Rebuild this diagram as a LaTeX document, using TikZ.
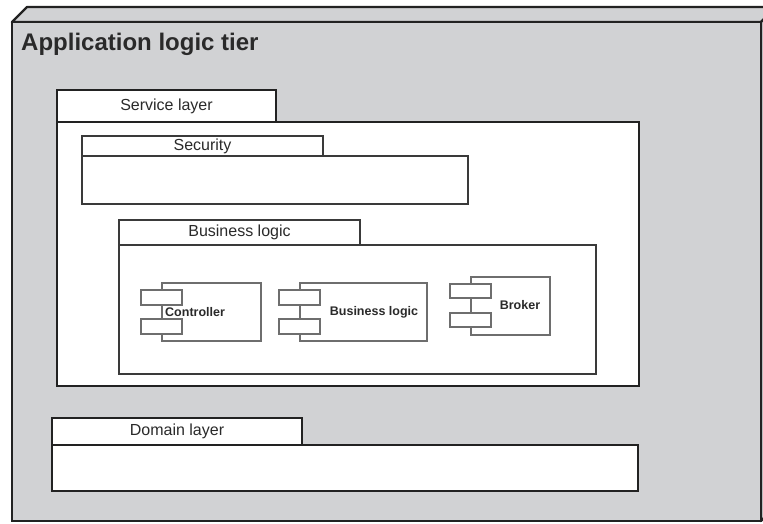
\documentclass[tikz,border=0pt]{standalone}
\usepackage{fontspec}
\setmainfont{Liberation Sans}
\definecolor{tierfill}{HTML}{D1D2D4}
\definecolor{edge}{HTML}{222222}
\definecolor{pkgedge}{HTML}{3A3A3A}
\definecolor{compedge}{HTML}{6E6E6E}
\definecolor{ink}{HTML}{2A2A2A}
\begin{document}
\begin{tikzpicture}[x=1pt,y=-1pt,
  box/.style={rectangle, anchor=north west, inner sep=0pt, outer sep=0pt, fill=white},
  heavybox/.style={box, draw=edge, line width=2.6pt},
  lightbox/.style={box, draw=pkgedge, line width=1.4pt},
  compbox/.style={box, draw=compedge, line width=1.2pt},
  tablabel/.style={text=ink, font=\fontsize{16}{18}\selectfont},
  complabel/.style={text=ink, font=\bfseries\fontsize{12.5}{14}\selectfont, inner sep=0pt}]
\useasboundingbox (0,0) rectangle (763,523);

% ---- node (3D box) for the tier ----
\begin{scope}
  \clip (0,0) rectangle (763,523);
  \filldraw[fill=tierfill, draw=edge, line width=2.4pt, line join=round]
    (12,22) -- (27,7) -- (776,7) -- (761,22) -- cycle;
  \filldraw[fill=tierfill, draw=edge, line width=2.4pt, line join=round]
    (761,22) -- (776,7) -- (776,506) -- (761,521) -- cycle;
\end{scope}
\node[box, fill=tierfill, draw=edge, line width=2.4pt,
      minimum width=749pt, minimum height=499pt] (tier) at (12,22) {};
\node[anchor=base west, text=ink, font=\bfseries\fontsize{24}{28}\selectfont, inner sep=0pt]
  (title) at (21,50) {Application logic tier};

% ---- Service layer package ----
\node[heavybox, minimum width=582pt, minimum height=264pt] (svcBody) at (57,122) {};
\node[heavybox, minimum width=219pt, minimum height=32pt] (svcTab) at (57,90) {};
\node[tablabel] at (svcTab.center) {Service layer};

% ---- Security package ----
\node[lightbox, minimum width=386pt, minimum height=48pt] (secBody) at (82,156) {};
\node[lightbox, minimum width=241pt, minimum height=20pt] (secTab) at (82,136) {};
\node[tablabel] at (secTab.center) {Security};

% ---- Business logic package ----
\node[lightbox, minimum width=477pt, minimum height=129pt] (blBody) at (119,245) {};
\node[lightbox, minimum width=241pt, minimum height=25pt] (blTab) at (119,220) {};
\node[tablabel] at (blTab.center) {Business logic};

% ---- Components ----
\node[compbox, minimum width=99pt, minimum height=58pt] (ctrl) at (162,283) {};
\node[compbox, minimum width=41pt, minimum height=15pt] (ctrlPortA) at (141,290) {};
\node[compbox, minimum width=41pt, minimum height=15pt] (ctrlPortB) at (141,319) {};
\node[complabel, anchor=west] (ctrlLabel) at (165,312) {Controller};

\node[compbox, minimum width=127pt, minimum height=58pt] (blc) at (300,283) {};
\node[compbox, minimum width=41pt, minimum height=15pt] (blcPortA) at (279,290) {};
\node[compbox, minimum width=41pt, minimum height=15pt] (blcPortB) at (279,319) {};
\node[complabel] (blcLabel) at (374,312) {Business logic};

\node[compbox, minimum width=79pt, minimum height=58pt] (brk) at (471,277) {};
\node[compbox, minimum width=41pt, minimum height=14pt] (brkPortA) at (450,284) {};
\node[compbox, minimum width=41pt, minimum height=14pt] (brkPortB) at (450,313) {};
\node[complabel] (brkLabel) at (520,305) {Broker};

% ---- Domain layer package ----
\node[heavybox, minimum width=586pt, minimum height=46pt] (domBody) at (52,445) {};
\node[heavybox, minimum width=250pt, minimum height=27pt] (domTab) at (52,418) {};
\node[tablabel] at (domTab.center) {Domain layer};
\end{tikzpicture}
\end{document}
